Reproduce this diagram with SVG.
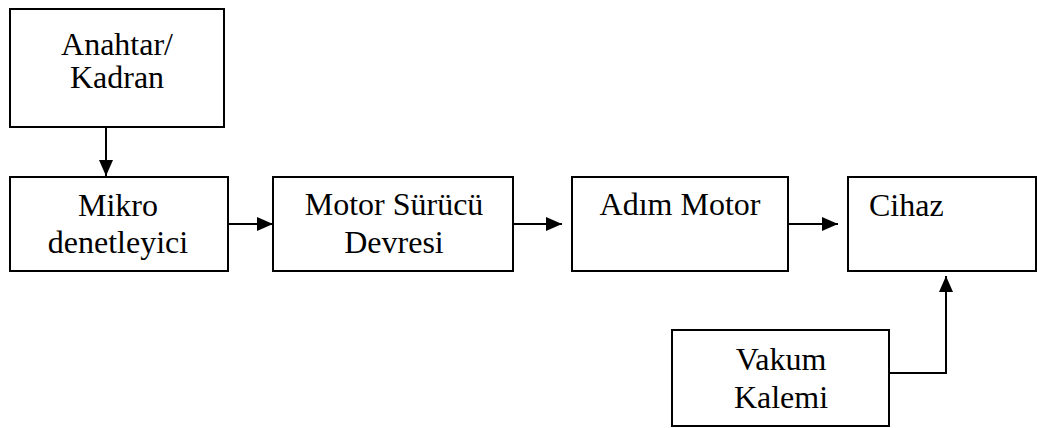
<svg xmlns="http://www.w3.org/2000/svg" width="1037" height="428" viewBox="0 0 1037 428">
  <defs>
    <style>
      .box { fill: #ffffff; stroke: #000000; stroke-width: 2; }
      .lbl { font-family: "Liberation Serif", "Times New Roman", serif; font-size: 32px; fill: #000000; }
      .mid { text-anchor: middle; }
      .wire { fill: none; stroke: #000000; stroke-width: 2; }
    </style>
    <marker id="head" viewBox="0 0 16 14" refX="16" refY="7" markerWidth="16" markerHeight="14" markerUnits="userSpaceOnUse" orient="auto">
      <path d="M0,0 L16,7 L0,14 Z" fill="#000000"/>
    </marker>
  </defs>
  <rect width="1037" height="428" fill="#ffffff"/>

  <g id="anahtar">
    <rect class="box" x="10" y="9" width="214" height="118"/>
    <text class="lbl mid" x="117" y="55">Anahtar/</text>
    <text class="lbl mid" x="117" y="88">Kadran</text>
  </g>

  <g id="mikro">
    <rect class="box" x="10" y="177" width="218" height="94"/>
    <text class="lbl mid" x="118" y="216">Mikro</text>
    <text class="lbl mid" x="118" y="253">denetleyici</text>
  </g>

  <g id="surucu">
    <rect class="box" x="273" y="177" width="240" height="94"/>
    <text class="lbl mid" x="394" y="215">Motor Sürücü</text>
    <text class="lbl mid" x="394" y="253">Devresi</text>
  </g>

  <g id="adim">
    <rect class="box" x="572" y="177" width="216" height="94"/>
    <text class="lbl mid" x="680" y="215">Adım Motor</text>
  </g>

  <g id="cihaz">
    <rect class="box" x="848" y="177" width="188" height="94"/>
    <text class="lbl" x="869" y="216">Cihaz</text>
  </g>

  <g id="vakum">
    <rect class="box" x="672" y="330" width="217" height="96"/>
    <text class="lbl mid" x="781" y="370">Vakum</text>
    <text class="lbl mid" x="781" y="408">Kalemi</text>
  </g>

  <g id="connectors">
    <line class="wire" x1="106" y1="127" x2="106" y2="176" marker-end="url(#head)"/>
    <line class="wire" x1="228" y1="224" x2="273" y2="224" marker-end="url(#head)"/>
    <line class="wire" x1="513" y1="224" x2="562" y2="224" marker-end="url(#head)"/>
    <line class="wire" x1="788" y1="224" x2="838" y2="224" marker-end="url(#head)"/>
    <polyline class="wire" points="889,373 946,373 946,276" marker-end="url(#head)"/>
  </g>
</svg>
